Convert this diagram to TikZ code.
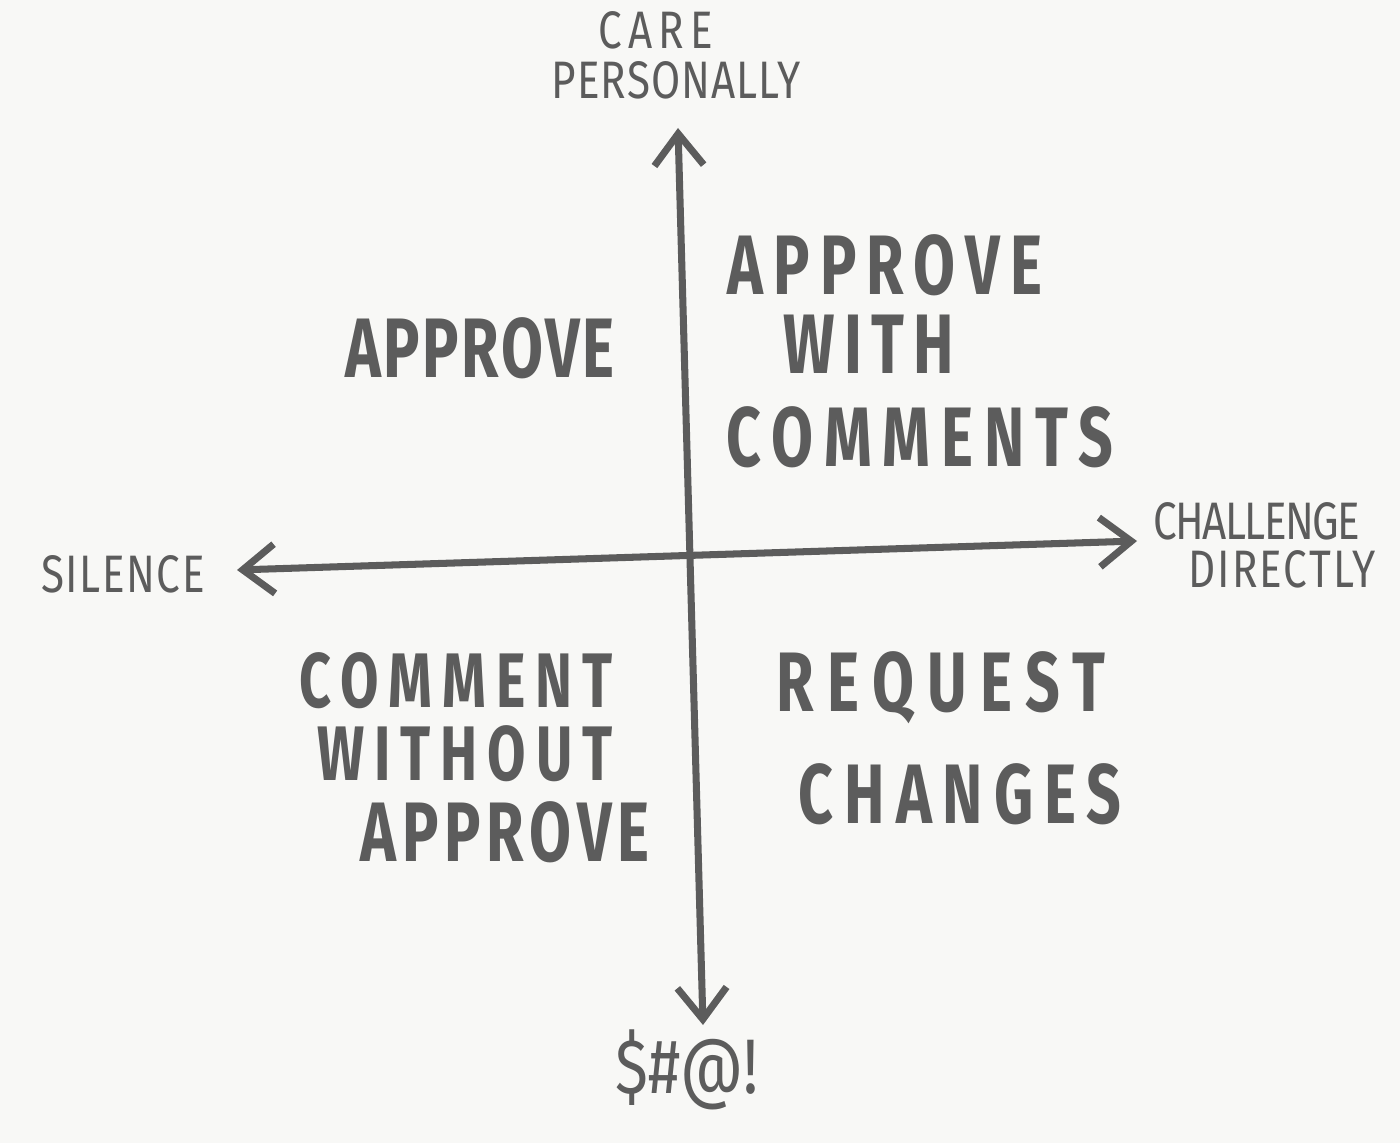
\documentclass[tikz,border=0pt]{standalone}
\usepackage{fontspec}
\newfontfamily\handfont[FakeStretch=0.72]{Fira Sans}
\newfontfamily\notefont[FakeStretch=0.8]{Fira Sans}
\usetikzlibrary{arrows.meta}
\definecolor{ink}{HTML}{5C5C5C}
\definecolor{paper}{HTML}{F8F8F6}
\tikzset{
  axis/.style={draw=ink,line width=2pt,line cap=round,
    {Straight Barb[length=9pt,width=14pt]}-{Straight Barb[length=9pt,width=14pt]}},
  big/.style={text=ink,inner sep=0pt,
    font=\handfont\bfseries\fontsize{24}{24}\selectfont\addfontfeature{LetterSpace=#1}},
  big/.default=0,
  mid/.style={text=ink,inner sep=0pt,
    font=\handfont\bfseries\fontsize{22}{22}\selectfont\addfontfeature{LetterSpace=#1}},
  mid/.default=0,
  small/.style={text=ink,inner sep=0pt,
    font=\notefont\fontsize{15}{15}\selectfont\addfontfeature{LetterSpace=#1}},
  small/.default=0
}

\begin{document}
\begin{tikzpicture}[x=0.01cm,y=-0.01cm]
\fill[paper] (0,0) rectangle (1400,1143);
\useasboundingbox (0,0) rectangle (1400,1143);
% axes
\coordinate (top) at (678,128);
\coordinate (bottom) at (703,1025);
\coordinate (left) at (237,570);
\coordinate (right) at (1137,541);
\draw[axis] (bottom) -- (top);
\draw[axis] (left) -- (right);
% axis labels
\node[small=12] (care) at (656,30) {CARE};
\node[small=2] (personally) at (676,80) {PERSONALLY};
\node[small=3] (silence) at (123,574) {SILENCE};
\node[small=-3] (challenge) at (1257,521) {CHALLENGE};
\node[small=4] (directly) at (1282,569) {DIRECTLY};
\node[small=6,font=\notefont\fontsize{22}{22}\selectfont] (curse) at (687,1070) {\$\#@!};
% quadrants
\node[big=3] (approve) at (480,348) {APPROVE};
\node[big=12] (approveA) at (885,265) {APPROVE};
\node[big=11] (with) at (869,344) {WITH};
\node[big=13] (comments) at (920,437) {COMMENTS};
\node[mid=13] (comment) at (456,681) {COMMENT};
\node[mid=13] (without) at (465,754) {WITHOUT};
\node[big=7] (approveB) at (505,832) {APPROVE};
\node[big=16] (request) at (941,688) {REQUEST};
\node[big=13] (changes) at (960,794) {CHANGES};
\end{tikzpicture}
\end{document}
